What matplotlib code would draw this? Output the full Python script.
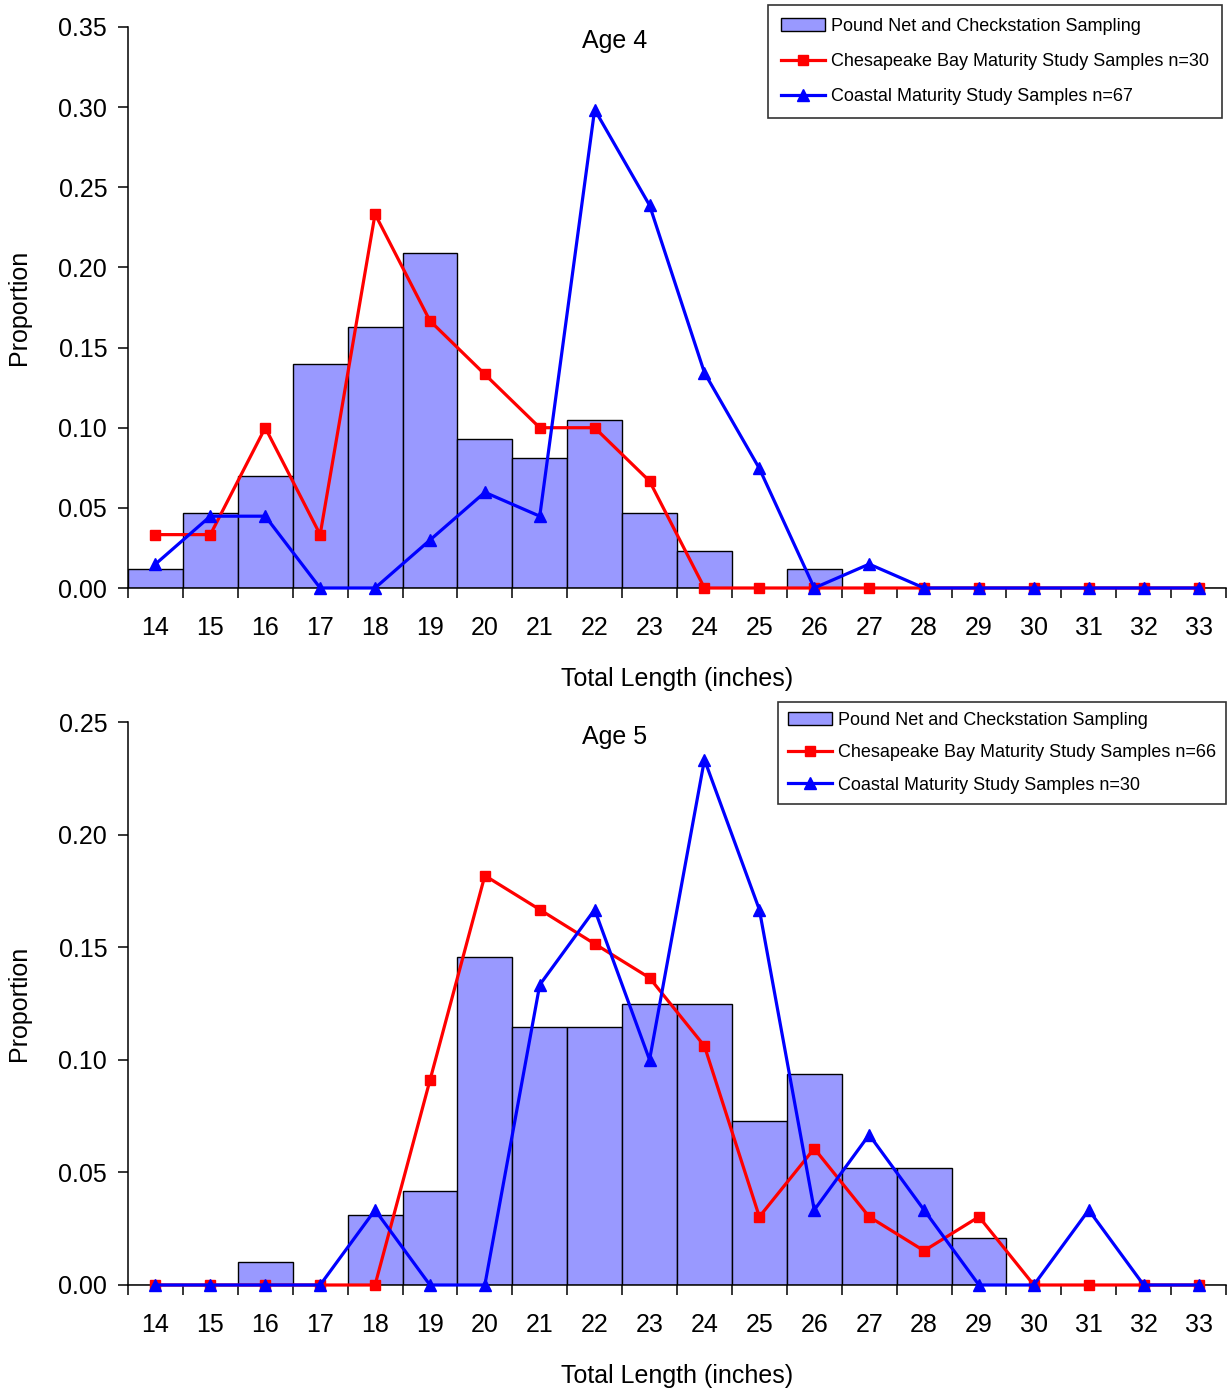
import matplotlib
matplotlib.use('Agg')
import matplotlib.pyplot as plt
import numpy as np
from matplotlib.patches import Rectangle
from matplotlib.legend_handler import HandlerPatch

plt.rcParams['font.family'] = ['Liberation Sans', 'DejaVu Sans']

lengths = list(range(14, 34))

age4_pound = [0.0116, 0.0465, 0.0698, 0.1395, 0.1628, 0.2093, 0.0930, 0.0814, 0.1047, 0.0465,
              0.0233, 0.0, 0.0116, 0.0, 0.0, 0.0, 0.0, 0.0, 0.0, 0.0]
age4_bay = [0.0333, 0.0333, 0.1000, 0.0333, 0.2333, 0.1667, 0.1333, 0.1000, 0.1000, 0.0667,
            0.0, 0.0, 0.0, 0.0, 0.0, 0.0, 0.0, 0.0, 0.0, 0.0]
age4_coast = [0.0149, 0.0448, 0.0448, 0.0, 0.0, 0.0299, 0.0597, 0.0448, 0.2985, 0.2388,
              0.1343, 0.0746, 0.0, 0.0149, 0.0, 0.0, 0.0, 0.0, 0.0, 0.0]

age5_pound = [0.0, 0.0, 0.0104, 0.0, 0.0313, 0.0417, 0.1458, 0.1146, 0.1146, 0.1250,
              0.1250, 0.0729, 0.0938, 0.0521, 0.0521, 0.0208, 0.0, 0.0, 0.0, 0.0]
age5_bay = [0.0, 0.0, 0.0, 0.0, 0.0, 0.0909, 0.1818, 0.1667, 0.1515, 0.1364,
            0.1061, 0.0303, 0.0606, 0.0303, 0.0152, 0.0303, 0.0, 0.0, 0.0, 0.0]
age5_coast = [0.0, 0.0, 0.0, 0.0, 0.0333, 0.0, 0.0, 0.1333, 0.1667, 0.1000,
              0.2333, 0.1667, 0.0333, 0.0667, 0.0333, 0.0, 0.0, 0.0333, 0.0, 0.0]

pound_label = "Pound Net and Checkstation Sampling"
bay_label4 = "Chesapeake Bay Maturity Study Samples n=30"
coast_label4 = "Coastal Maturity Study Samples n=67"
bay_label5 = "Chesapeake Bay Maturity Study Samples n=66"
coast_label5 = "Coastal Maturity Study Samples n=30"

W, H = 1231, 1391
fig = plt.figure(figsize=(W / 100, H / 100), dpi=100)
FS = 18


class FlatRect(HandlerPatch):
    def create_artists(self, legend, orig_handle, xdescent, ydescent, width, height,
                       fontsize, trans):
        p = Rectangle((-xdescent, -ydescent + height * 0.22), width, height * 0.56)
        self.update_prop(p, orig_handle, legend)
        p.set_transform(trans)
        return [p]


def px_axes(left, top, right, bottom):
    return fig.add_axes([left / W, 1 - bottom / H, (right - left) / W, (bottom - top) / H])


def draw(ax, pound, bay, coast, ymax, title, title_y, bay_lbl, coast_lbl, leg_anchor,
         lspace, bpad):
    x = np.arange(len(lengths))
    bars = ax.bar(x, pound, width=1.0, color='#9999FF', edgecolor='black', linewidth=1.0,
                  label=pound_label, zorder=2)
    l1, = ax.plot(x, bay, color='#FF0000', lw=2.3, marker='s', ms=7.5, label=bay_lbl,
                  clip_on=False, zorder=3)
    l2, = ax.plot(x, coast, color='#0000FF', lw=2.3, marker='^', ms=8.5, label=coast_lbl,
                  clip_on=False, zorder=4)
    ax.set_xlim(-0.5, len(lengths) - 0.5)
    ax.set_ylim(0, ymax)
    yt = np.arange(0, ymax + 0.001, 0.05)
    ax.set_yticks(yt)
    ax.set_yticklabels([f"{v:.2f}" for v in yt])
    ax.set_xticks(np.arange(-0.5, len(lengths), 1.0))
    ax.set_xticklabels([])
    ax.set_xticks(x, minor=True)
    ax.set_xticklabels([str(v) for v in lengths], minor=True)
    ax.tick_params(axis='x', which='major', direction='out', length=7, width=1.1)
    ax.tick_params(axis='x', which='minor', length=0, pad=20, labelsize=FS)
    ax.tick_params(axis='y', direction='out', length=7, width=1.1, pad=8, labelsize=FS)
    for s in ['top', 'right']:
        ax.spines[s].set_visible(False)
    for s in ['left', 'bottom']:
        ax.spines[s].set_linewidth(1.1)
    ax.set_xlabel("Total Length (inches)", fontsize=FS)
    ax.set_ylabel("Proportion", fontsize=FS)
    ax.xaxis.set_label_coords(0.5, -0.14)
    ax.yaxis.set_label_coords(-0.088, 0.5)
    fig.text(0.4996, title_y, title, fontsize=FS, ha='center', va='center')
    leg = ax.legend([bars, l1, l2], [pound_label, bay_lbl, coast_lbl],
                    handler_map={type(bars.patches[0]): FlatRect()},
                    loc='upper right', bbox_to_anchor=leg_anchor, bbox_transform=fig.transFigure,
                    fontsize=13, frameon=True, fancybox=False, borderaxespad=0,
                    handlelength=2.4, handletextpad=0.35, labelspacing=lspace, borderpad=bpad)
    leg.get_frame().set_edgecolor('black')
    leg.get_frame().set_linewidth(1.2)


ax1 = px_axes(128, 27, 1226, 588)
draw(ax1, age4_pound, age4_bay, age4_coast, 0.35, "Age 4", 1 - 41 / H,
     bay_label4, coast_label4, (1222 / W, 1 - 5 / H), 1.0, 0.72)

ax2 = px_axes(128, 722, 1226, 1285)
draw(ax2, age5_pound, age5_bay, age5_coast, 0.25, "Age 5", 1 - 737 / H,
     bay_label5, coast_label5, (1226 / W, 1 - 702 / H), 0.85, 0.55)

fig.savefig("out.png", dpi=100)
